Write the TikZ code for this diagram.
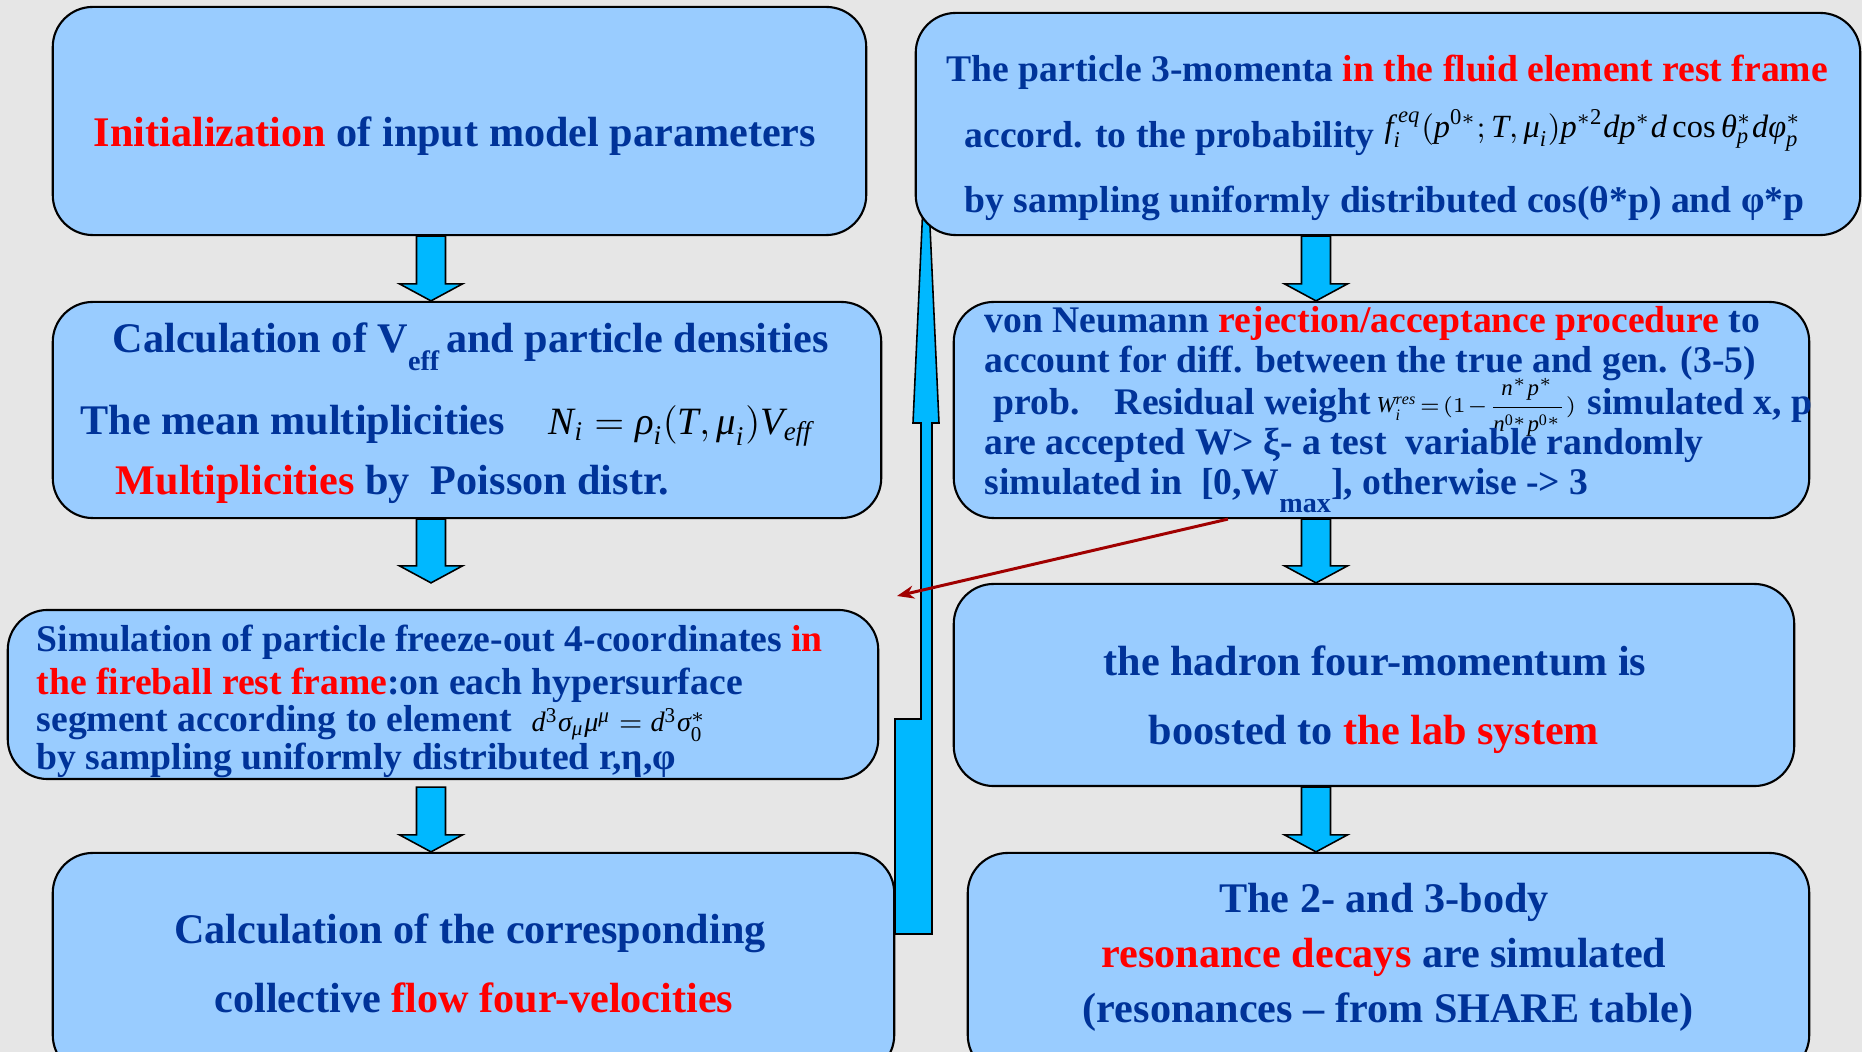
\documentclass[tikz,border=0pt]{standalone}
\usepackage{fontspec}
\setmainfont{Liberation Serif}
\usepackage{amsmath}
\usetikzlibrary{arrows.meta,calc}

\definecolor{bggray}{HTML}{E6E6E6}
\definecolor{boxblue}{HTML}{99CCFF}
\definecolor{txtblue}{HTML}{003399}
\definecolor{alertred}{HTML}{FF0000}
\definecolor{arrowcyan}{HTML}{00B8FF}
\definecolor{backred}{HTML}{A00000}

\newcommand\redw[1]{\textcolor{alertred}{#1}}
\newcommand\gk[1]{\text{\normalfont\itshape #1}}

\tikzset{
  stepbox/.style={draw=black,line width=0.6pt,fill=boxblue,rounded corners=0.4cm,inner sep=0pt},
  bigtext/.style={font=\fontsize{12}{14}\selectfont\bfseries,text=txtblue,inner sep=0pt},
  smalltext/.style={font=\fontsize{10.7}{13}\selectfont\bfseries,text=txtblue,inner sep=0pt},
  formula/.style={text=black,inner sep=0pt,anchor=base west},
  flowarrow/.style={draw=black,line width=0.45pt,fill=arrowcyan},
}

\begin{document}
\begin{tikzpicture}[x=0.01cm,y=-0.01cm]
\fill[bggray] (0,0) rectangle (1862,1052);
\useasboundingbox (0,0) rectangle (1862,1052);
\clip (0,0) rectangle (1862,1052);

% return arrow, behind the boxes
\path[flowarrow] (895,934) -- (932,934) -- (932,423) -- (939,423) -- (926,139) -- (913,423)
  -- (921,423) -- (921,719) -- (895,719) -- cycle;

% left column
\node[stepbox,minimum width=8.13cm,minimum height=2.28cm] (init) at (459.5,121) {};
\node[stepbox,minimum width=8.28cm,minimum height=2.16cm] (calc) at (467,410) {};
\node[stepbox,minimum width=8.70cm,minimum height=1.69cm] (sim) at (443,694.5) {};
\node[stepbox,minimum width=8.41cm,minimum height=2.22cm] (corresp) at (473.5,964) {};
% right column
\node[stepbox,minimum width=9.44cm,minimum height=2.22cm] (momenta) at (1388,124) {};
\node[stepbox,minimum width=8.55cm,minimum height=2.16cm] (neumann) at (1381.5,410) {};
\node[stepbox,minimum width=8.40cm,minimum height=2.02cm] (boost) at (1374,685) {};
\node[stepbox,minimum width=8.41cm,minimum height=2.22cm] (decays) at (1388.5,964) {};

\coordinate (lcol) at (431,0);
\coordinate (rcol) at (1316,0);
\foreach \col/\src/\dst in {lcol/init.south/calc.north, lcol/calc.south/boost.north,
    lcol/boost.south/corresp.north, rcol/momenta.south/neumann.north,
    rcol/neumann.south/boost.north, rcol/boost.south/decays.north}
  \path[flowarrow] let \p1=(\col |- \src), \p2=(\col |- \dst) in
    ({\x1-0.145cm},\y1) -- ({\x1+0.145cm},\y1) -- ({\x1+0.145cm},{\y2+0.17cm})
    -- ({\x1+0.315cm},{\y2+0.17cm}) -- (\x1,\y2) -- ({\x1-0.315cm},{\y2+0.17cm})
    -- ({\x1-0.145cm},{\y2+0.17cm}) -- cycle;

% texts
\node[bigtext,anchor=base] (initl1) at (455,147) {\redw{Initialization} of input model parameters};

\node[bigtext,anchor=base west] (calcl1) at (112,353) {Calculation of V\raisebox{-5pt}{\fontsize{8}{8}\selectfont eff}\,and particle densities};
\node[bigtext,anchor=base west] (calcl2) at (80,435) {The mean multiplicities};
\node[formula,font=\fontsize{11}{13}\selectfont] (calcf) at (548,435)
  {$\mathit{N}_{\mathit{i}}=\gk{ρ}_{\mathit{i}}(\mathit{T},\gk{μ}_{\mathit{i}})\mathit{V}_{\mathit{eff}}$};
\node[bigtext,anchor=base west] (calcl3) at (115,495) {\redw{Multiplicities} by\ \ Poisson distr.};

\node[smalltext,anchor=base west] (siml1) at (36,652) {Simulation of particle freeze-out 4-coordinates \redw{in}};
\node[smalltext,anchor=base west] (siml2) at (36,695) {\redw{the fireball rest frame}:on each hypersurface};
\node[smalltext,anchor=base west] (siml3) at (36,732) {segment according to element};
\node[formula,font=\fontsize{8}{10}\selectfont] (simf) at (531,732)
  {$\mathit{d}^{\mathrm{3}}\gk{σ}_{\gk{μ}}\gk{μ}^{\gk{μ}}=\mathit{d}^{\mathrm{3}}\gk{σ}_{\mathrm{0}}^{*}$};
\node[smalltext,anchor=base west] (siml4) at (36,770) {by sampling uniformly distributed r,η,φ};

\node[bigtext,anchor=base] (corrl1) at (470,944) {Calculation of the corresponding};
\node[bigtext,anchor=base] (corrl2) at (474,1013) {collective \redw{flow four-velocities}};

\node[smalltext,anchor=base west] (moml1) at (946,82) {The particle 3-momenta \redw{in the fluid element rest frame}};
\node[smalltext,anchor=base west] (moml2) at (964,148) {accord. to the probability};
\node[formula,font=\fontsize{9.2}{11}\selectfont] (momf) at (1384,138)
  {$\mathit{f}_{\mathit{i}}^{\,\mathit{eq}}(\mathit{p}^{\mathrm{0}*};\mathit{T},\gk{μ}_{\mathit{i}})\mathit{p}^{*\mathrm{2}}\mathit{dp}^{*}\mathit{d}\,\mathrm{cos}\,\gk{θ}_{\mathit{p}}^{*}\mathit{d}\gk{φ}_{\mathit{p}}^{*}$};
\node[smalltext,anchor=base west] (moml3) at (964,213) {by sampling uniformly distributed cos(θ*p) and φ*p};

\node[smalltext,anchor=base west] (neul1) at (984,333) {von Neumann \redw{rejection/acceptance procedure} to};
\node[smalltext,anchor=base west] (neul2) at (984,373) {account for diff. between the true and gen. (3-5)};
\node[smalltext,anchor=base west] (neul3) at (993,415) {prob.\hspace{0.6em} Residual weight};
\node[formula,font=\fontsize{6.5}{8}\selectfont] (neuf) at (1376,413)
  {$\mathit{W}_{\mathit{i}}^{\mathit{res}}\!=\!(1\!-\!\dfrac{\mathit{n}^{*}\mathit{p}^{*}}{\mathit{n}^{\mathrm{0}*}\mathit{p}^{\mathrm{0}*}})$};
\node[smalltext,anchor=base west] (neul3b) at (1587,415) {simulated x, p};
\node[smalltext,anchor=base west] (neul4) at (984,455) {are accepted W> ξ- a test\ \ variable randomly};
\node[smalltext,anchor=base west] (neul5) at (984,495) {simulated in\ \ [0,W\raisebox{-5pt}{\fontsize{8}{8}\selectfont max}], otherwise -> 3};

\node[bigtext,anchor=base] (boostl1) at (1375,676) {the hadron four-momentum is};
\node[bigtext,anchor=base] (boostl2) at (1374,745) {boosted to \redw{the lab system}};

\node[bigtext,anchor=base] (decl1) at (1384,913) {The 2- and 3-body};
\node[bigtext,anchor=base] (decl2) at (1384,968) {\redw{resonance decays} are simulated};
\node[bigtext,anchor=base] (decl3) at (1388,1023) {(resonances – from SHARE table)};

% rejected candidates go back
\coordinate (rejtip) at (897,596);
\draw[backred,line width=0.85pt,-{Stealth[length=0.17cm,width=0.13cm]}] ([xshift=-1.535cm]neumann.south) -- (rejtip);
\end{tikzpicture}
\end{document}
